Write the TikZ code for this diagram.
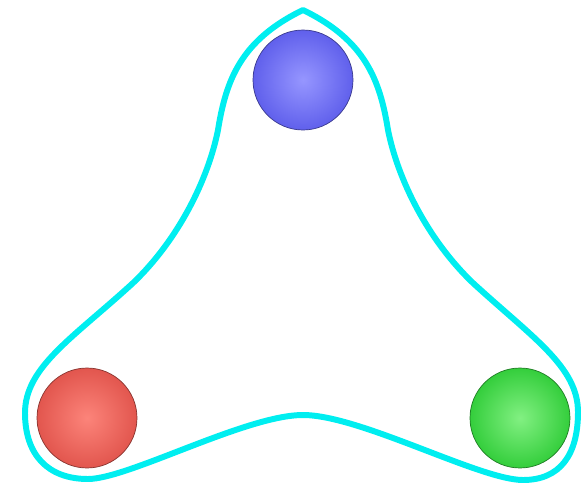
\documentclass[tikz,border=0pt]{standalone}
\usepackage{tikz}
\usetikzlibrary{positioning}

\definecolor{ringcyan}{RGB}{0,238,240}
\definecolor{ballblue}{RGB}{96,96,236}
\definecolor{balllightblue}{RGB}{150,150,255}
\definecolor{ballred}{RGB}{226,86,78}
\definecolor{balllightred}{RGB}{252,132,122}
\definecolor{ballgreen}{RGB}{52,206,60}
\definecolor{balllightgreen}{RGB}{130,240,130}

\begin{document}
\begin{tikzpicture}[
    x=0.02cm, y=-0.02cm,
    ball/.style={circle, minimum size=2cm, inner sep=0pt, line width=0.4pt},
    ring/.style={ringcyan, line width=3.4pt, line join=round}
]
\useasboundingbox (0,0) rectangle (582,484);

% Balls
\node (blue) at (303,80) [ball, draw=ballblue!60!black, inner color=balllightblue, outer color=ballblue] {};
\node (red) at (87,418) [ball, draw=ballred!60!black, inner color=balllightred, outer color=ballred] {};
\node (green) at (520,418) [ball, draw=ballgreen!60!black, inner color=balllightgreen, outer color=ballgreen] {};

% Outline
\coordinate (top) at (303,10);
\draw [ring] (top)
    .. controls (365,40) and (380,80) .. (388,130)
    .. controls (398,180) and (428,240) .. (473,283)
    .. controls (533,338) and (578,367) .. (578,412)
    .. controls (578,455) and (560,480) .. (523,480)
    .. controls (480,480) and (360,415) .. (303,415)
    .. controls (246,415) and (128,479) .. (88,479)
    .. controls (48,479) and (25,455) .. (25,413)
    .. controls (25,367) and (73,338) .. (133,283)
    .. controls (178,240) and (208,180) .. (218,130)
    .. controls (226,80) and (241,40) .. (top) -- cycle;

\end{tikzpicture}
\end{document}
